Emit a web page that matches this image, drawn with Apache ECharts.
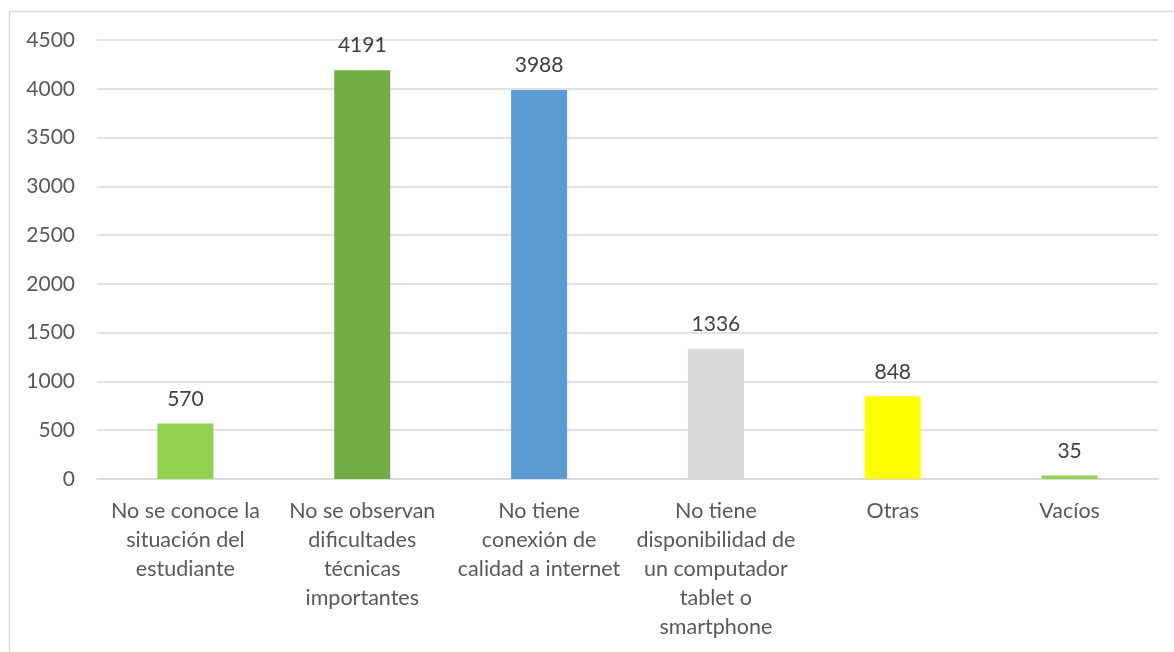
<!DOCTYPE html>
<html><head><meta charset="utf-8">
<script src="https://cdn.jsdelivr.net/npm/echarts@6/dist/echarts.min.js"></script>
<style>html,body{margin:0;padding:0;background:#fff}#c{width:1174px;height:652px}</style>
</head><body><div id="c"></div>
<script>
const categories = [
  'No se conoce la\nsituación del\nestudiante',
  'No se observan\ndificultades\ntécnicas\nimportantes',
  'No tiene\nconexión de\ncalidad a internet',
  'No tiene\ndisponibilidad de\nun computador\ntablet o\nsmartphone',
  'Otras',
  'Vacíos'
];
const values = [570, 4191, 3988, 1336, 848, 35];
const barColors = ['#92D050', '#70AD47', '#5B9BD5', '#D9D9D9', '#FFFF00', '#92D050'];
const yTicks = { min: 0, max: 4500, interval: 500 };

const FONT = 'Lato';
const chart = echarts.init(document.getElementById('c'), null, { renderer: 'canvas' });
chart.setOption({
  animation: false,
  backgroundColor: '#fff',
  graphic: [{
    type: 'rect', silent: true,
    shape: { x: 9.5, y: 11.5, width: 1300, height: 800 },
    style: { fill: 'none', stroke: '#D9D9D9', lineWidth: 1.5 }
  }],
  grid: { left: 97, right: 16, top: 40, bottom: 173, containLabel: false },
  xAxis: {
    type: 'category',
    data: categories,
    axisLine: { lineStyle: { color: '#D9D9D9', width: 1.5 } },
    axisTick: { show: false },
    axisLabel: {
      color: '#595959', fontFamily: FONT, fontSize: 21.5, lineHeight: 29,
      margin: 18, interval: 0
    }
  },
  yAxis: {
    type: 'value', min: yTicks.min, max: yTicks.max, interval: yTicks.interval,
    axisLine: { show: false }, axisTick: { show: false },
    splitLine: { lineStyle: { color: '#D9D9D9', width: 1.5 } },
    axisLabel: { color: '#595959', fontFamily: FONT, fontSize: 21, margin: 22,
      formatter: v => String(v) }
  },
  series: [{
    type: 'bar',
    barWidth: 56,
    data: values.map((v, i) => ({ value: v, itemStyle: { color: barColors[i] } })),
    label: {
      show: true, position: 'top', distance: 14,
      color: '#404040', fontFamily: FONT, fontSize: 21
    }
  }]
});
</script></body></html>
